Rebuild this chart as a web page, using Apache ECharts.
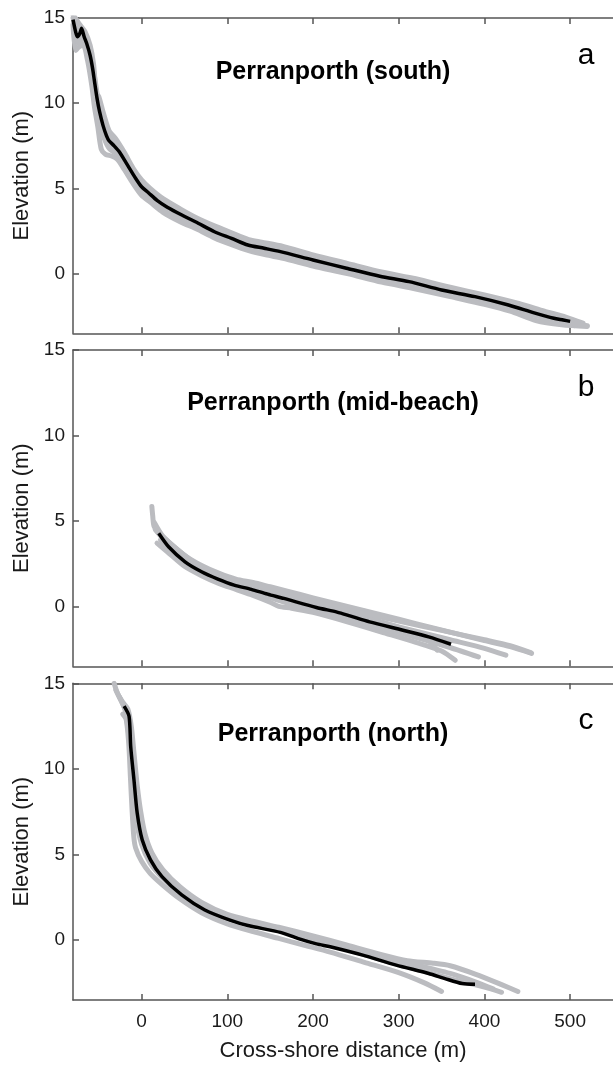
<!DOCTYPE html>
<html>
<head>
<meta charset="utf-8">
<script src="https://cdn.jsdelivr.net/npm/echarts@6/dist/echarts.min.js"></script>
<style>
html,body{margin:0;padding:0;background:#fff;}
#chart{width:613px;height:1065px;}
</style>
</head>
<body>
<div id="chart"></div>
<script>
// ---- data ----
const xTicks = [0, 100, 200, 300, 400, 500];
const yTicks = [0, 5, 10, 15];
const panelTitles = ['Perranporth (south)', 'Perranporth (mid-beach)', 'Perranporth (north)'];
const panelLetters = ['a', 'b', 'c'];

const southMean = [[-80,14.9],[-77,14.2],[-75,13.9],[-72,14.1],[-70,14.4],[-67,13.9],[-64,13.5],[-60,12.8],[-57,12.0],[-55,11.3],[-52,10.3],[-49,9.5],[-45,8.7],[-41,8.1],[-38,7.8],[-32,7.5],[-26,7.15],[-18,6.5],[-7,5.6],[0,5.1],[8,4.75],[18,4.3],[30,3.9],[47,3.44],[66,2.96],[85,2.46],[105,2.07],[124,1.68],[143,1.49],[162,1.29],[200,0.8],[239,0.32],[278,-0.15],[312,-0.47],[350,-0.96],[389,-1.35],[428,-1.84],[458,-2.3],[481,-2.62],[492,-2.72],[500,-2.8]];
const southSurvey1 = [[-80,15.2],[-76,14.9],[-72,14.6],[-66,14.2],[-60,13.4],[-56,12.3],[-53,10.6],[-50,10.4],[-45,9.5],[-38,8.4],[-30,7.9],[-20,7.1],[-10,6.2],[0,5.5],[10,5.0],[25,4.4],[45,3.8],[65,3.25],[85,2.8],[105,2.4],[125,2.0],[140,1.85],[165,1.6],[200,1.1],[240,0.6],[280,0.1],[320,-0.3],[360,-0.8],[400,-1.25],[440,-1.75],[470,-2.2],[495,-2.55],[515,-2.9]];
const southSurvey2 = [[-80,14.6],[-77,13.1],[-73,13.3],[-68,13.4],[-63,12.5],[-58,11.0],[-55,9.8],[-51,8.6],[-47,7.3],[-42,7.0],[-35,6.9],[-28,6.7],[-20,6.1],[-10,5.3],[0,4.6],[10,4.2],[25,3.6],[45,3.05],[65,2.6],[85,2.1],[105,1.7],[125,1.35],[145,1.1],[165,0.9],[200,0.45],[240,0.0],[280,-0.5],[320,-0.9],[360,-1.35],[400,-1.8],[430,-2.2],[460,-2.75],[490,-3.0],[520,-3.1]];
const southSurvey3 = [[-80,15.0],[-75,14.3],[-71,14.1],[-65,13.9],[-60,13.0],[-55,11.6],[-50,10.0],[-45,8.9],[-38,8.0],[-30,7.6],[-20,6.8],[-10,6.0],[0,5.3],[10,4.8],[25,4.2],[45,3.6],[65,3.1],[85,2.6],[105,2.2],[125,1.85],[145,1.65],[165,1.4],[200,0.95],[240,0.45],[280,-0.05],[320,-0.5],[360,-0.95],[400,-1.4],[440,-1.95],[470,-2.4],[500,-2.85],[510,-3.0]];
const southSurvey4 = [[-79,14.8],[-75,13.8],[-71,13.6],[-65,13.5],[-60,12.5],[-55,11.0],[-50,9.4],[-45,8.4],[-38,7.5],[-30,7.2],[-20,6.4],[-10,5.6],[0,4.9],[10,4.45],[25,3.85],[45,3.3],[65,2.8],[85,2.3],[105,1.9],[125,1.55],[145,1.3],[165,1.1],[200,0.65],[240,0.15],[280,-0.35],[320,-0.75],[360,-1.2],[400,-1.65],[440,-2.2],[470,-2.6],[490,-2.9],[505,-3.05]];
const southSurvey5 = [[-78,14.5],[-74,13.5],[-70,13.9],[-64,13.2],[-59,12.0],[-54,10.3],[-50,9.1],[-44,8.0],[-37,7.3],[-28,7.0],[-18,6.3],[-8,5.5],[2,4.85],[12,4.5],[28,3.95],[48,3.4],[68,2.95],[88,2.45],[108,2.05],[128,1.7],[148,1.5],[168,1.3],[200,0.85],[240,0.35],[280,-0.2],[320,-0.65],[360,-1.05],[400,-1.55],[440,-2.05],[470,-2.5],[495,-2.85],[520,-3.05]];

const midMean = [[20,4.28],[31.5,3.49],[50.7,2.61],[70,2.03],[89,1.6],[108,1.25],[128,1.0],[147,0.72],[166,0.47],[204,-0.06],[228,-0.33],[243,-0.55],[266,-0.9],[305,-1.39],[335,-1.78],[361,-2.21]];
const midSurvey1 = [[12,5.85],[13,5.3],[14.5,4.7],[20,4.3],[30,3.85],[50,3.0],[70,2.4],[90,1.95],[110,1.6],[130,1.4],[150,1.15],[170,0.9],[200,0.5],[240,0.0],[280,-0.5],[320,-1.0],[360,-1.5],[400,-2.0],[430,-2.35],[455,-2.75]];
const midSurvey2 = [[18,3.7],[30,3.2],[50,2.35],[70,1.8],[90,1.35],[110,1.0],[130,0.65],[150,0.25],[160,0.0],[175,-0.1],[200,-0.35],[240,-0.9],[280,-1.5],[320,-2.1],[350,-2.6],[366,-3.15]];
const midSurvey3 = [[15,4.9],[25,4.1],[45,3.2],[70,2.25],[90,1.8],[110,1.4],[130,1.15],[150,0.9],[170,0.55],[200,0.15],[240,-0.35],[280,-0.9],[310,-1.4],[335,-2.0],[345,-2.56]];
const midSurvey4 = [[16,4.5],[30,3.7],[50,2.8],[70,2.15],[90,1.7],[110,1.3],[130,1.05],[150,0.8],[170,0.5],[200,0.1],[240,-0.4],[280,-0.95],[320,-1.45],[360,-1.95],[400,-2.45],[425,-2.85]];
const midSurvey5 = [[22,3.9],[40,3.0],[60,2.3],[80,1.8],[100,1.4],[120,1.05],[140,0.7],[160,0.35],[180,0.05],[200,-0.2],[240,-0.7],[280,-1.25],[320,-1.8],[360,-2.4],[393,-2.95]];
const midSurvey6 = [[25,3.95],[50,2.9],[80,2.0],[110,1.5],[140,1.1],[170,0.75],[200,0.3],[250,-0.3],[300,-0.85],[350,-1.4],[400,-1.95],[430,-2.3],[454,-2.7]];

const northMean = [[-20.4,13.67],[-14.6,13.08],[-12.7,11.32],[-8.9,9.37],[-5.1,7.42],[0.7,5.86],[10.4,4.69],[23.8,3.71],[46.8,2.64],[73.8,1.76],[104,1.15],[124,0.85],[162,0.45],[182,0.1],[204,-0.22],[220,-0.39],[258,-0.88],[297,-1.46],[335,-1.95],[354,-2.25],[374,-2.54],[389,-2.58]];
const northSurvey1 = [[-32,15.0],[-28,14.4],[-22,13.9],[-16,13.5],[-12,12.5],[-9,11],[-5,9],[-1,7.5],[4,6.2],[12,5.1],[25,4.1],[45,3.1],[70,2.2],[100,1.5],[130,1.1],[160,0.75],[200,0.25],[240,-0.3],[280,-0.85],[310,-1.2],[340,-1.35],[360,-1.5],[390,-2.0],[420,-2.6],[439,-3.0]];
const northSurvey2 = [[-22,13.2],[-18,12.9],[-15,11.5],[-13,9.5],[-11,7.5],[-9,6.0],[-7,5.4],[0,4.6],[10,3.9],[25,3.2],[45,2.4],[70,1.6],[100,0.95],[130,0.5],[160,0.1],[190,-0.3],[220,-0.7],[260,-1.3],[300,-1.9],[330,-2.5],[350,-3.0]];
const northSurvey3 = [[-30,14.6],[-24,14.0],[-19,13.4],[-15,12.0],[-12,10.5],[-9,8.5],[-6,7.0],[0,5.6],[10,4.5],[25,3.6],[45,2.7],[70,1.9],[100,1.25],[130,0.9],[160,0.55],[200,0.0],[240,-0.55],[280,-1.15],[320,-1.7],[360,-2.25],[400,-2.75],[420,-3.05]];
const northSurvey4 = [[-26,14.2],[-20,13.6],[-14,12.8],[-11,11.0],[-8,9.0],[-4,7.5],[2,6.0],[12,4.8],[25,3.85],[45,2.9],[70,2.0],[100,1.4],[130,1.0],[160,0.7],[200,0.1],[240,-0.45],[280,-1.0],[320,-1.45],[360,-1.95],[390,-2.45],[410,-2.85]];

const panels = [
  { mean: southMean, surveys: [southSurvey1, southSurvey2, southSurvey3, southSurvey4, southSurvey5] },
  { mean: midMean, surveys: [midSurvey1, midSurvey2, midSurvey3, midSurvey4, midSurvey5, midSurvey6] },
  { mean: northMean, surveys: [northSurvey1, northSurvey2, northSurvey3, northSurvey4] }
];

// ---- layout / style ----
const FONT = '"Liberation Sans", Arial, Helvetica, sans-serif';
const AXIS_COLOR = '#555555';
const GRAY = '#bbbcc0';
const grids = [
  { left: 73, top: 18, width: 546.5, height: 315.3 },
  { left: 73, top: 350, width: 546.5, height: 316.3 },
  { left: 73, top: 683.3, width: 546.5, height: 316.7 }
];
const titleY = [72, 403, 734];
const letterY = [56, 388, 721];

const chart = echarts.init(document.getElementById('chart'), null, { renderer: 'canvas' });

const xAxes = [], yAxes = [], series = [], graphics = [];
grids.forEach((g, i) => {
  const isLast = i === grids.length - 1;
  const axisBase = {
    type: 'value', gridIndex: i, min: -80, max: 550,
    axisLine: { show: true, onZero: false, lineStyle: { color: AXIS_COLOR, width: 1.5 } },
    axisTick: { show: true, inside: true, length: 6, customValues: xTicks, lineStyle: { color: AXIS_COLOR, width: 1.5 } },
    splitLine: { show: false }
  };
  xAxes.push(Object.assign({}, axisBase, {
    position: 'bottom',
    axisLabel: { show: isLast, customValues: xTicks, color: '#1a1a1a', fontSize: 19, fontFamily: FONT, margin: 12 },
    name: isLast ? 'Cross-shore distance (m)' : '',
    nameLocation: 'middle', nameGap: 40,
    nameTextStyle: { color: '#1a1a1a', fontSize: 22, fontFamily: FONT }
  }));
  xAxes.push(Object.assign({}, axisBase, {
    position: 'top',
    axisLabel: { show: false }
  }));
  yAxes.push({
    type: 'value', gridIndex: i, min: -3.5, max: 15, position: 'left',
    axisLine: { show: true, onZero: false, lineStyle: { color: AXIS_COLOR, width: 1.5 } },
    axisTick: { show: true, inside: true, length: 6, customValues: yTicks, lineStyle: { color: AXIS_COLOR, width: 1.5 } },
    axisLabel: { customValues: yTicks, color: '#1a1a1a', fontSize: 19, fontFamily: FONT, margin: 8 },
    splitLine: { show: false },
    name: 'Elevation (m)', nameLocation: 'middle', nameGap: 36,
    nameTextStyle: { color: '#1a1a1a', fontSize: 22, fontFamily: FONT }
  });
  panels[i].surveys.forEach(s => {
    series.push({
      type: 'line', xAxisIndex: i * 2, yAxisIndex: i, data: s,
      showSymbol: false, symbol: 'none', silent: true, clip: true, smooth: 0.25,
      lineStyle: { color: GRAY, width: 5, cap: 'round', join: 'round' }, z: 2
    });
  });
  series.push({
    type: 'line', xAxisIndex: i * 2, yAxisIndex: i, data: panels[i].mean,
    showSymbol: false, symbol: 'none', silent: true, clip: true, smooth: 0.25,
    lineStyle: { color: '#000000', width: 3.5, join: 'round' }, z: 3
  });
  graphics.push({
    type: 'text', x: 333, y: titleY[i], z: 10,
    style: { text: panelTitles[i], font: 'bold 25px ' + FONT, fill: '#000', align: 'center', verticalAlign: 'middle' }
  });
  graphics.push({
    type: 'text', x: 586, y: letterY[i], z: 10,
    style: { text: panelLetters[i], font: '30px ' + FONT, fill: '#000', align: 'center', verticalAlign: 'middle' }
  });
});

chart.setOption({
  animation: false,
  backgroundColor: '#ffffff',
  grid: grids,
  xAxis: xAxes,
  yAxis: yAxes,
  series: series,
  graphic: graphics
});
</script>
</body>
</html>
